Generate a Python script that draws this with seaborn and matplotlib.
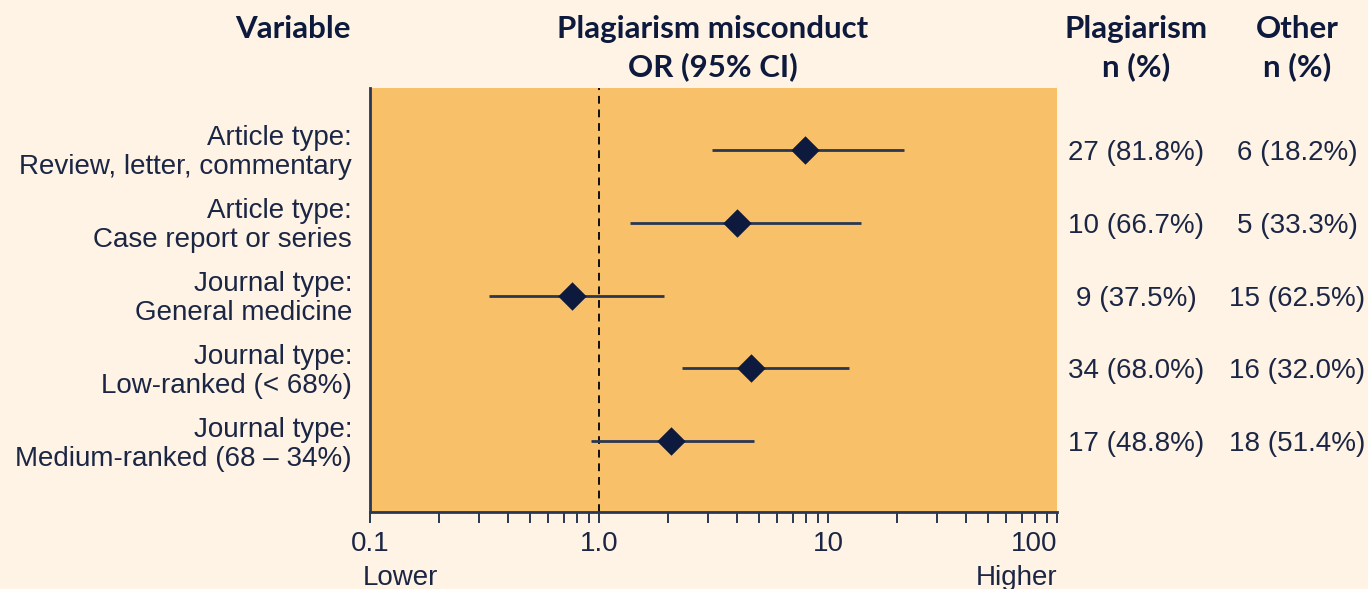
import matplotlib
matplotlib.use("Agg")
import matplotlib.pyplot as plt
import matplotlib.transforms as mtransforms
from matplotlib.ticker import LogLocator, NullFormatter, FixedLocator, FixedFormatter, NullLocator
import seaborn as sns
import pandas as pd

# ---- data ----
variables = [
    "Article type:\nReview, letter, commentary",
    "Article type:\nCase report or series",
    "Journal type:\nGeneral medicine",
    "Journal type:\nLow-ranked (< 68%)",
    "Journal type:\nMedium-ranked (68 \u2013 34%)",
]
odds_ratio = [7.9, 4.0, 0.76, 4.6, 2.06]
ci_low = [3.1, 1.37, 0.33, 2.3, 0.92]
ci_high = [21.5, 14.0, 1.92, 12.4, 4.75]
plag_n = ["27 (81.8%)", "10 (66.7%)", "9 (37.5%)", "34 (68.0%)", "17 (48.8%)"]
other_n = ["6 (18.2%)", "5 (33.3%)", "15 (62.5%)", "16 (32.0%)", "18 (51.4%)"]
x_ticks = [0.1, 1.0, 10, 100]
x_tick_labels = ["0.1", "1.0", "10", "100"]

df = pd.DataFrame({"var": variables, "pos": range(len(variables)),
                   "or": odds_ratio, "lo": ci_low, "hi": ci_high})

# ---- style ----
BG = "#FEF3E4"
AX = "#F9C06A"
NAVY = "#0E1A3D"
LINE = "#2A3753"
TXT = "#1B2645"
BODY = ["Liberation Sans", "DejaVu Sans"]
HEAD = ["Lato", "DejaVu Sans"]
FS = 20

sns.set_theme(style="white")
plt.rcParams["font.family"] = BODY

fig = plt.figure(figsize=(13.68, 5.89), dpi=100, facecolor=BG)
ax = fig.add_axes([370 / 1368, 77 / 589, 687 / 1368, 424 / 589])
ax.set_facecolor(AX)

# CI lines
ax.hlines(df["pos"], df["lo"], df["hi"], color=LINE, lw=2.0, zorder=2)
# reference line
ax.axvline(1.0, color="#111111", lw=1.4, ls=(0, (4, 3)), zorder=1)
# points
sns.scatterplot(data=df, x="or", y="pos", marker="D", s=210, color=NAVY,
                edgecolor=NAVY, linewidth=0, ax=ax, zorder=3, legend=False)

ax.set_xscale("log")
ax.set_xlim(0.1, 100)
ax.set_ylim(4.97, -0.85)

ax.xaxis.set_major_locator(FixedLocator(x_ticks))
ax.xaxis.set_major_formatter(FixedFormatter(x_tick_labels))
ax.xaxis.set_minor_locator(LogLocator(base=10, subs=range(2, 10)))
ax.xaxis.set_minor_formatter(NullFormatter())
ax.tick_params(axis="x", which="both", direction="out", length=8, width=1.4,
               color=LINE, bottom=True, labelsize=FS, labelcolor=TXT, pad=6)
lbls = ax.get_xticklabels()
lbls[-1].set_horizontalalignment("right")
lbls[-1].set_x(100)

ax.yaxis.set_major_locator(NullLocator())

for s in ["top", "right"]:
    ax.spines[s].set_visible(False)
for s in ["left", "bottom"]:
    ax.spines[s].set_visible(True)
    ax.spines[s].set_color(LINE)
    ax.spines[s].set_linewidth(2.0)
ax.set_xlabel("")
ax.set_ylabel("")

# row labels (left), positioned on data rows
lab_tr = mtransforms.blended_transform_factory(ax.transAxes, ax.transData) + \
    mtransforms.ScaledTranslation(-18 / 100, -3 / 100, fig.dpi_scale_trans)
for p, v in zip(df["pos"], variables):
    ax.text(0, p, v, transform=lab_tr, ha="right", va="center", fontsize=FS,
            color=TXT, linespacing=1.15)

# Lower / Higher
ax.text(-0.01, -0.155, "Lower", transform=ax.transAxes, ha="left", va="center",
        fontsize=FS, color=TXT)
ax.text(1.0, -0.155, "Higher", transform=ax.transAxes, ha="right", va="center",
        fontsize=FS, color=TXT)

# side columns
tr = mtransforms.blended_transform_factory(fig.transFigure, ax.transData) + \
    mtransforms.ScaledTranslation(0, -3 / 100, fig.dpi_scale_trans)
for p, a, b in zip(df["pos"], plag_n, other_n):
    fig.text(1136 / 1368, p, a, transform=tr, ha="center", va="center",
             fontsize=FS, color=TXT)
    fig.text(1297 / 1368, p, b, transform=tr, ha="center", va="center",
             fontsize=FS, color=TXT)

# headers
hk = dict(fontsize=22.5, fontweight="bold", color=NAVY, family=HEAD,
          va="center", linespacing=1.38)
fig.text(351 / 1368, 1 - 29 / 589, "Variable", ha="right", **hk)
fig.text(713 / 1368, 1 - 48 / 589, "Plagiarism misconduct\nOR (95% CI)", ha="center", **hk)
fig.text(1136 / 1368, 1 - 48 / 589, "Plagiarism\nn (%)", ha="center", **hk)
fig.text(1297 / 1368, 1 - 48 / 589, "Other\nn (%)", ha="center", **hk)

fig.savefig("out.png", dpi=100, facecolor=BG)
